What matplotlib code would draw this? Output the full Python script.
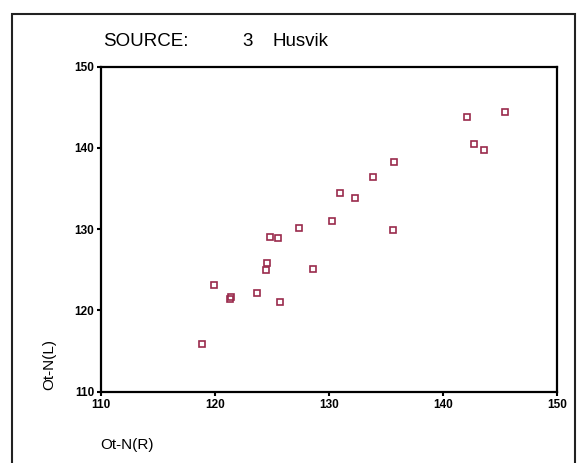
import matplotlib
matplotlib.use("Agg")
import matplotlib.pyplot as plt
from matplotlib.patches import Rectangle

plt.rcParams['font.family'] = ['Liberation Sans', 'DejaVu Sans']

# Ot-N(R) vs Ot-N(L), source 3 Husvik
ot_n_r = [142.1, 145.5, 142.75, 143.6, 135.7, 133.85, 131.0, 132.3, 130.3,
          127.4, 135.6, 128.6, 124.8, 125.5, 124.6, 124.5, 119.9, 123.7,
          121.4, 121.3, 125.7, 118.9]
ot_n_l = [143.8, 144.4, 140.5, 139.7, 138.3, 136.4, 134.4, 133.8, 131.05,
          130.2, 129.9, 125.1, 129.1, 128.9, 125.9, 125.0, 123.1, 122.1,
          121.7, 121.4, 121.0, 115.9]
ticks = [110, 120, 130, 140, 150]

fig = plt.figure(figsize=(5.79, 4.63), dpi=100)
W, H = 579, 463
ax = fig.add_axes([101 / W, 1 - 391.7 / H, (556.7 - 101) / W, (391.7 - 66.7) / H])

# outer box round the whole chart
fig.patches.append(Rectangle((12 / W, -0.1), (575 - 12) / W, 1.1 - 14 / H,
                             transform=fig.transFigure, fill=False,
                             edgecolor='#222222', linewidth=1.5))

ax.plot(ot_n_r, ot_n_l, linestyle='none', marker='s', markersize=4.3,
        markerfacecolor='none', markeredgecolor='#9a2a4c', markeredgewidth=1.2)

ax.set_xlim(110, 150)
ax.set_ylim(110, 150)
ax.set_xticks(ticks)
ax.set_yticks(ticks)
ax.tick_params(direction='out', length=3, width=1.5, labelsize=8.5, pad=2)
for lab in ax.get_xticklabels() + ax.get_yticklabels():
    lab.set_fontweight('bold')
for s in ax.spines.values():
    s.set_linewidth(1.6)

title_y = 1 - 41 / H
fig.text(103 / W, title_y, 'SOURCE:', fontsize=13.5, va='center', ha='left')
fig.text(242 / W, title_y, '3', fontsize=13.5, va='center', ha='left')
fig.text(272 / W, title_y, 'Husvik', fontsize=13.5, va='center', ha='left')

fig.text(100 / W, 1 - 445 / H, 'Ot-N(R)', fontsize=11, va='center', ha='left')
fig.text(49 / W, 1 - 365 / H, 'Ot-N(L)', fontsize=11, va='center', ha='center',
         rotation=90)

fig.savefig('out.png', dpi=100)
